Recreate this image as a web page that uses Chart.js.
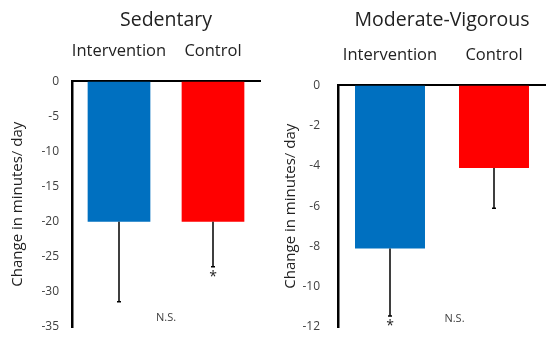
<!DOCTYPE html>
<html>
<head>
<meta charset="utf-8">
<script src="https://cdn.jsdelivr.net/npm/chart.js@4.4.0/dist/chart.umd.min.js"></script>
<style>
  body { margin: 0; background: #fff; }
  .panel { position: absolute; top: 0; height: 337px; }
  #left { left: 0; width: 273px; }
  #right { left: 273px; width: 273px; }
</style>
</head>
<body>
<div class="panel" id="left"><canvas id="chartSed"></canvas></div>
<div class="panel" id="right"><canvas id="chartMv"></canvas></div>
<script>
// datos
const categorias = ['Intervention', 'Control'];
const colores = ['#0070c0', '#ff0000'];

const sedValores = [-20.0, -20.0];
const sedErrores = [11.4, 6.4];
const sedMarcas = ['', '*'];
const sedTicks = { min: -35, max: 0, step: 5 };

const mvValores = [-8.1, -4.1];
const mvErrores = [3.35, 2.0];
const mvMarcas = ['*', ''];
const mvTicks = { min: -12, max: 0, step: 2 };

// N.S. [posicion x entre categorias, valor y]
const sedNS = [0.5, -33.7];
const mvNS = [0.62, -11.6];

const fuente = "'Open Sans', sans-serif";
const gris = '#404040';

const erroresPlugin = {
    id: 'errores',
    afterDatasetsDraw(chart, args, opts) {
        const ctx = chart.ctx;
        const xs = chart.scales.x;
        const ys = chart.scales.y;
        ctx.save();
        ctx.strokeStyle = '#000';
        ctx.lineWidth = 1.5;
        opts.valores.forEach(function (v, i) {
            const x = xs.getPixelForValue(i);
            const y0 = ys.getPixelForValue(v);
            const y1 = ys.getPixelForValue(v - opts.errores[i]);
            ctx.beginPath();
            ctx.moveTo(x, y0);
            ctx.lineTo(x, y1);
            ctx.moveTo(x - 2, y1);
            ctx.lineTo(x + 2, y1);
            ctx.stroke();
            if (opts.marcas[i]) {
                ctx.fillStyle = '#222';
                ctx.font = '14px ' + fuente;
                ctx.textAlign = 'center';
                ctx.textBaseline = 'middle';
                ctx.fillText(opts.marcas[i], x, y1 + 10);
            }
        });
        const p0 = xs.getPixelForValue(0);
        const p1 = xs.getPixelForValue(1);
        ctx.fillStyle = gris;
        ctx.font = '11px ' + fuente;
        ctx.textAlign = 'center';
        ctx.textBaseline = 'middle';
        ctx.fillText('N.S.', p0 + opts.ns[0] * (p1 - p0), ys.getPixelForValue(opts.ns[1]));
        ctx.restore();
    }
};

function crearGrafico(id, titulo, valores, errores, marcas, ticks, ns, arriba, barra, derecha, ejeX, pad, abajo) {
    new Chart(document.getElementById(id), {
        type: 'bar',
        data: {
            labels: categorias,
            datasets: [{
                data: valores,
                backgroundColor: colores,
                barPercentage: barra,
                categoryPercentage: 1
            }]
        },
        options: {
            responsive: true,
            maintainAspectRatio: false,
            animation: false,
            layout: { padding: { left: 0, right: derecha, top: 0, bottom: 0 } },
            plugins: {
                legend: { display: false },
                tooltip: { enabled: false },
                title: {
                    display: true,
                    text: titulo,
                    fullSize: false,
                    color: '#222',
                    font: { family: fuente, size: 19.5, weight: 'normal' },
                    padding: { top: 9, bottom: 0 }
                },
                errores: { valores: valores, errores: errores, marcas: marcas, ns: ns }
            },
            scales: {
                x: {
                    position: 'top',
                    grid: { display: false, drawTicks: false },
                    border: { display: true, color: '#000', width: 2 },
                    ticks: {
                        color: '#222',
                        font: { family: fuente, size: 16.5 },
                        maxRotation: 0,
                        minRotation: 0,
                        autoSkip: false,
                        padding: 20
                    },
                    afterFit: function (s) {
                        s.height = arriba;
                        s.paddingTop = 0;
                        s.paddingBottom = 0;
                    }
                },
                y: {
                    min: ticks.min,
                    max: ticks.max,
                    grid: { display: false, drawTicks: false },
                    border: { display: true, color: '#000', width: 2.5 },
                    ticks: {
                        stepSize: ticks.step,
                        color: gris,
                        font: { family: fuente, size: 12 },
                        padding: pad
                    },
                    title: {
                        display: true,
                        text: 'Change in minutes/ day',
                        color: '#222',
                        font: { family: fuente, size: 15 },
                        padding: { top: 9, bottom: 0 }
                    },
                    afterFit: function (s) {
                        s.width = ejeX;
                        s.paddingBottom = abajo;
                    }
                }
            }
        },
        plugins: [erroresPlugin]
    });
}

crearGrafico('chartSed', 'Sedentary', sedValores, sedErrores, sedMarcas, sedTicks, sedNS, 49, 0.667, 13, 72, 13, 10);
crearGrafico('chartMv', 'Moderate-Vigorous', mvValores, mvErrores, mvMarcas, mvTicks, mvNS, 53, 0.673, 0, 65, 18, 10);
</script>
</body>
</html>
